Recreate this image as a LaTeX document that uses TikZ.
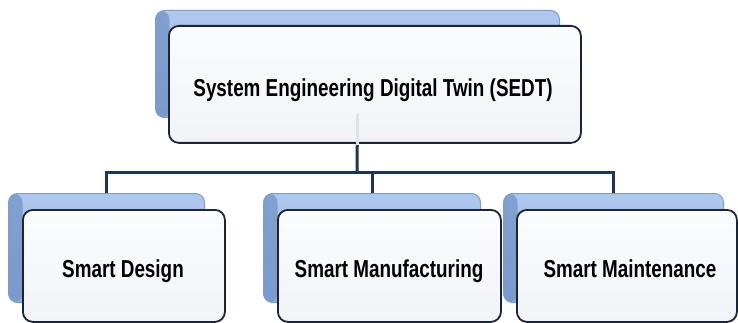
\documentclass[tikz,border=0pt]{standalone}
\usepackage{fontspec}
\newfontfamily\lblfont[FakeStretch=0.77]{Liberation Sans}
\definecolor{backtop}{HTML}{AFC8EE}
\definecolor{backbot}{HTML}{8AACDD}
\definecolor{backside}{HTML}{7596C8}
\definecolor{backedge}{HTML}{7F9DC9}
\definecolor{frontedge}{HTML}{1C2537}
\definecolor{fronttop}{HTML}{FBFCFD}
\definecolor{frontbot}{HTML}{F1F3F7}
\definecolor{conncol}{HTML}{1F3557}
\definecolor{connfaint}{HTML}{DCE1EA}
\tikzset{
  backbox/.style={rounded corners=9pt, draw=backedge, line width=1pt,
    top color=backtop, bottom color=backbot, anchor=north west, inner sep=0pt,
    path picture={\shade[left color=backside, right color=backbot, opacity=0.8]
      (path picture bounding box.north west) rectangle
      ([xshift=14pt]path picture bounding box.south west);}},
  frontbox/.style={rounded corners=10pt, draw=frontedge, line width=1.8pt,
    top color=fronttop, bottom color=frontbot, anchor=north west, inner sep=0pt},
  lbl/.style={anchor=base, inner sep=0pt, font=\lblfont\bfseries\fontsize{24.5}{28}\selectfont, text=black},
  conn/.style={draw=conncol, line width=3pt, line join=miter}
}
\begin{document}
\begin{tikzpicture}[x=1pt,y=-1pt]
\useasboundingbox (0,0) rectangle (738,323);
\fill[white] (0,0) rectangle (738,323);
% back boxes
\node[backbox, minimum width=404pt, minimum height=107pt] (b0) at (155,10) {};
\node[backbox, minimum width=196pt, minimum height=109pt] (b1) at (8,193) {};
\node[backbox, minimum width=217pt, minimum height=109pt] (b2) at (263,193) {};
\node[backbox, minimum width=220pt, minimum height=109pt] (b3) at (503,193) {};
% connectors
\coordinate (hub) at (357,173);
\draw[conn] (b0.south) -- (hub);
\draw[conn] (b1.north) |- (hub) -| (b3.north);
\draw[conn] (hub -| b2.north) -- (b2.north);
% front boxes
\node[frontbox, minimum width=412pt, minimum height=117pt] (f0) at (168,25) {};
\node[frontbox, minimum width=202pt, minimum height=112pt] (f1) at (22,209) {};
\node[frontbox, minimum width=223pt, minimum height=112pt] (f2) at (277,209) {};
\node[frontbox, minimum width=220pt, minimum height=112pt] (f3) at (516,209) {};
\draw[draw=connfaint, line width=3pt] ([yshift=4pt]b0.south) -- ([yshift=-1pt]b0.south |- f0.south);
% labels
\node[lbl] (t0) at (373,97) {System Engineering Digital Twin (SEDT)};
\node[lbl] (t1) at (123,277) {Smart Design};
\node[lbl] (t2) at (389,277) {Smart Manufacturing};
\node[lbl] (t3) at (630,277) {Smart Maintenance};
\end{tikzpicture}
\end{document}
